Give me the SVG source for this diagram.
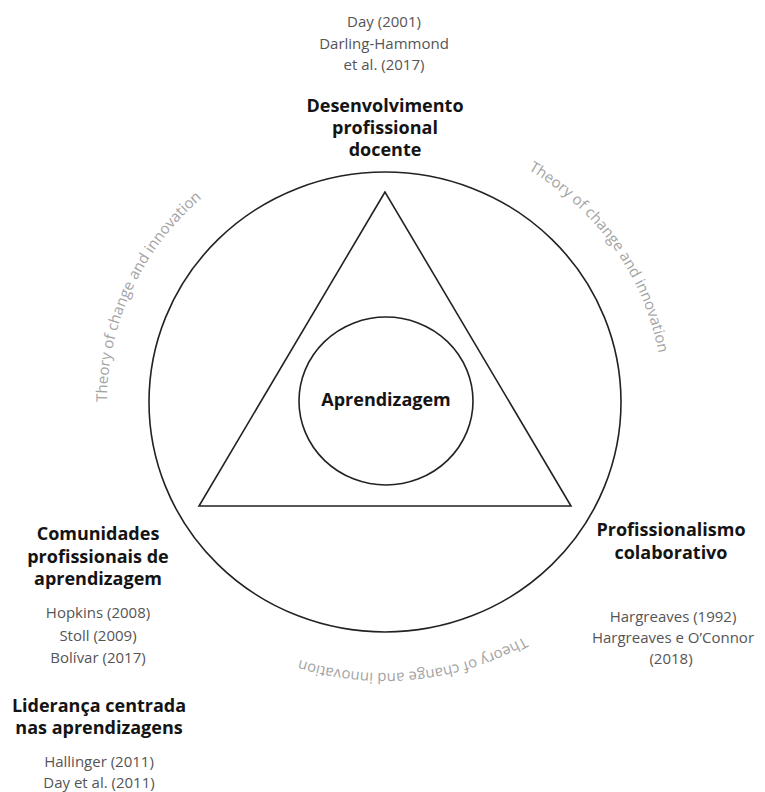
<svg xmlns="http://www.w3.org/2000/svg" width="765" height="792" viewBox="0 0 765 792">
<style>
.shape{fill:none;stroke:#222;stroke-width:1.6}
.lbl{font-family:"Open Sans","Liberation Sans",sans-serif;font-weight:700;font-size:18px;fill:#141414;text-anchor:middle}
.cit{font-family:"Open Sans","Liberation Sans",sans-serif;font-size:15px;fill:#555;text-anchor:middle}
.arc{font-family:"Open Sans","Liberation Sans",sans-serif;font-size:15px;fill:#a3a3a3}
</style>
<defs>
<path id="pLeft" d="M107,402 A278,271 0 0 1 199,200.6"/>
<path id="pRight" d="M528.2,169.7 A278,271 0 0 1 659.6,359.6"/>
<path id="pBottom" d="M524,636.7 A278,271 0 0 1 289.9,656.7"/>
</defs>
<rect width="765" height="792" fill="#fff"/>
<g id="outer-circle">
<ellipse class="shape" cx="385" cy="402" rx="236" ry="230"/>
</g>
<g id="triangle">
<polygon class="shape" points="385,192 199,506 571,506"/>
</g>
<g id="aprendizagem">
<ellipse class="shape" cx="386" cy="401" rx="87" ry="84"/>
<text class="lbl" x="386" y="406">Aprendizagem</text>
</g>
<g id="desenvolvimento">
<text class="cit" x="384" y="27">Day (2001)</text>
<text class="cit" x="384" y="49">Darling-Hammond</text>
<text class="cit" x="384" y="70">et al. (2017)</text>
<text class="lbl" x="385" y="112">Desenvolvimento</text>
<text class="lbl" x="385" y="134">profissional</text>
<text class="lbl" x="385" y="156">docente</text>
</g>
<g id="comunidades">
<text class="lbl" x="98" y="540">Comunidades</text>
<text class="lbl" x="98" y="562.5">profissionais de</text>
<text class="lbl" x="98" y="585">aprendizagem</text>
<text class="cit" x="98" y="618">Hopkins (2008)</text>
<text class="cit" x="98" y="640.5">Stoll (2009)</text>
<text class="cit" x="98" y="663">Bolívar (2017)</text>
</g>
<g id="lideranca">
<text class="lbl" x="99" y="711.5">Liderança centrada</text>
<text class="lbl" x="99" y="733.5">nas aprendizagens</text>
<text class="cit" x="99" y="767">Hallinger (2011)</text>
<text class="cit" x="99" y="788">Day et al. (2011)</text>
</g>
<g id="profissionalismo">
<text class="lbl" x="671" y="535.5">Profissionalismo</text>
<text class="lbl" x="671" y="558.5">colaborativo</text>
<text class="cit" x="673" y="621.5">Hargreaves (1992)</text>
<text class="cit" x="673" y="642.5">Hargreaves e O’Connor</text>
<text class="cit" x="671" y="664">(2018)</text>
</g>
<g id="arc-labels">
<text class="arc"><textPath href="#pLeft" textLength="232" lengthAdjust="spacing">Theory of change and innovation</textPath></text>
<text class="arc"><textPath href="#pRight" textLength="232" lengthAdjust="spacing">Theory of change and innovation</textPath></text>
<text class="arc"><textPath href="#pBottom" textLength="232" lengthAdjust="spacing">Theory of change and innovation</textPath></text>
</g>
</svg>
